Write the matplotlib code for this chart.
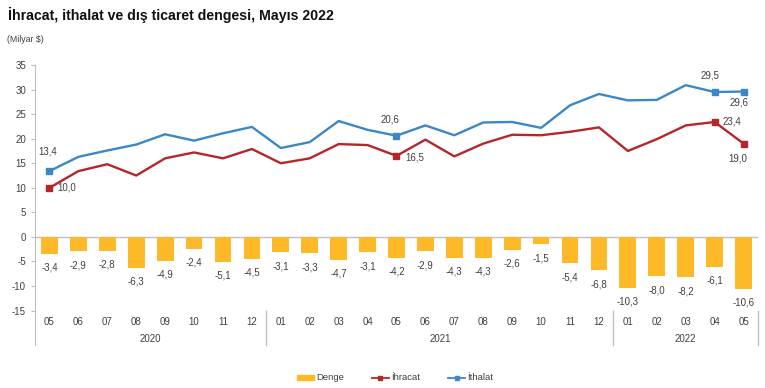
import matplotlib
matplotlib.use("Agg")
import matplotlib.pyplot as plt
from matplotlib.lines import Line2D
from matplotlib.patches import Patch

plt.rcParams['font.family'] = ['Liberation Sans', 'DejaVu Sans']
plt.rcParams['axes.unicode_minus'] = False

months = ["05", "06", "07", "08", "09", "10", "11", "12",
          "01", "02", "03", "04", "05", "06", "07", "08", "09", "10", "11", "12",
          "01", "02", "03", "04", "05"]
years = ["2020", "2021", "2022"]
year_counts = [8, 12, 5]

ihracat = [10.0, 13.4, 14.8, 12.5, 16.0, 17.2, 16.0, 17.9,
           15.0, 16.0, 18.9, 18.7, 16.5, 19.8, 16.4, 19.0, 20.8, 20.7, 21.4, 22.3,
           17.5, 19.9, 22.7, 23.4, 19.0]
denge = [-3.4, -2.9, -2.8, -6.3, -4.9, -2.4, -5.1, -4.5,
         -3.1, -3.3, -4.7, -3.1, -4.2, -2.9, -4.3, -4.3, -2.6, -1.5, -5.4, -6.8,
         -10.3, -8.0, -8.2, -6.1, -10.6]
ithalat = [13.4, 16.3, 17.6, 18.8, 20.9, 19.6, 21.1, 22.4,
           18.1, 19.3, 23.6, 21.8, 20.6, 22.7, 20.7, 23.3, 23.4, 22.2, 26.8, 29.1,
           27.8, 27.9, 30.9, 29.5, 29.6]

def fmt(v):
    return f"{v:.1f}".replace(".", ",")

BAR = "#FDB927"
RED = "#B5262B"
BLUE = "#3C87C6"
TXT = "#404040"
AX = "#BFBFBF"

fig = plt.figure(figsize=(7.65, 3.88), dpi=100)
ax = fig.add_axes([35/765, 43/388, 723/765, 280/388])

x = list(range(len(months)))
ax.bar(x, denge, width=0.58, color=BAR, zorder=2)
ax.plot(x, ihracat, color=RED, lw=1.7, zorder=3)
ax.plot(x, ithalat, color=BLUE, lw=1.7, zorder=3)

mk = [0, 12, 23, 24]
ax.plot([x[i] for i in mk], [ihracat[i] for i in mk], 's', color=RED, ms=3.8, zorder=4)
ax.plot([x[i] for i in mk], [ithalat[i] for i in mk], 's', color=BLUE, ms=3.8, zorder=4)

ax.set_xlim(-0.5, 24.5)
ax.set_ylim(-22, 35)
ax.axhline(0, color=AX, lw=1, zorder=1)

for s in ["top", "right", "bottom"]:
    ax.spines[s].set_visible(False)
ax.spines["left"].set_color(AX)
ax.set_yticks(range(-15, 36, 5))
ax.tick_params(axis="y", colors=AX, labelcolor=TXT, labelsize=7, length=3, width=0.8)
ax.set_xticks([])

for i, v in enumerate(denge):
    ax.annotate(fmt(v), (x[i], v), xytext=(0, -10), textcoords="offset points",
                ha="center", va="center", fontsize=7, color=TXT)

lab = [
    (ithalat, 0, (-1, 14), "center"),
    (ihracat, 0, (6, 0), "left"),
    (ithalat, 12, (-5, 12), "center"),
    (ihracat, 12, (6, -1), "left"),
    (ithalat, 23, (-3, 12), "center"),
    (ithalat, 24, (-3, -8), "center"),
    (ihracat, 23, (6, 0), "left"),
    (ihracat, 24, (-4, -11), "center"),
]
for ser, i, off, ha in lab:
    ax.annotate(fmt(ser[i]), (x[i], ser[i]), xytext=off, textcoords="offset points",
                ha=ha, va="center", fontsize=7, color=TXT)

for i, m in enumerate(months):
    ax.text(x[i], -17.3, m, ha="center", va="center", fontsize=7, color=TXT)

start = 0
for y, c in zip(years, year_counts):
    ax.text(start + (c - 1) / 2, -20.7, y, ha="center", va="center", fontsize=7, color=TXT)
    start += c
    ax.plot([start - 0.5, start - 0.5], [-15, -22], color=AX, lw=1, clip_on=False)

fig.text(8/765, 1 - 15/388, "İhracat, ithalat ve dış ticaret dengesi, Mayıs 2022",
         fontsize=10.2, fontweight="bold", ha="left", va="center", color="#111111")
fig.text(7/765, 1 - 39/388, "(Milyar $)", fontsize=6.3, ha="left", va="center", color=TXT)

handles = [Patch(color=BAR, label="Denge"),
           Line2D([], [], color=RED, lw=1.3, marker="s", ms=2.5, label="İhracat"),
           Line2D([], [], color=BLUE, lw=1.3, marker="s", ms=2.5, label="İthalat")]
leg = fig.legend(handles=handles, loc="center", bbox_to_anchor=(395/765, 1 - 378/388),
                 ncol=3, frameon=False, fontsize=6.8, handlelength=1.8, handleheight=0.4,
                 handletextpad=0.2, columnspacing=3)
for t in leg.get_texts():
    t.set_color(TXT)

fig.savefig("out.png", dpi=100)
